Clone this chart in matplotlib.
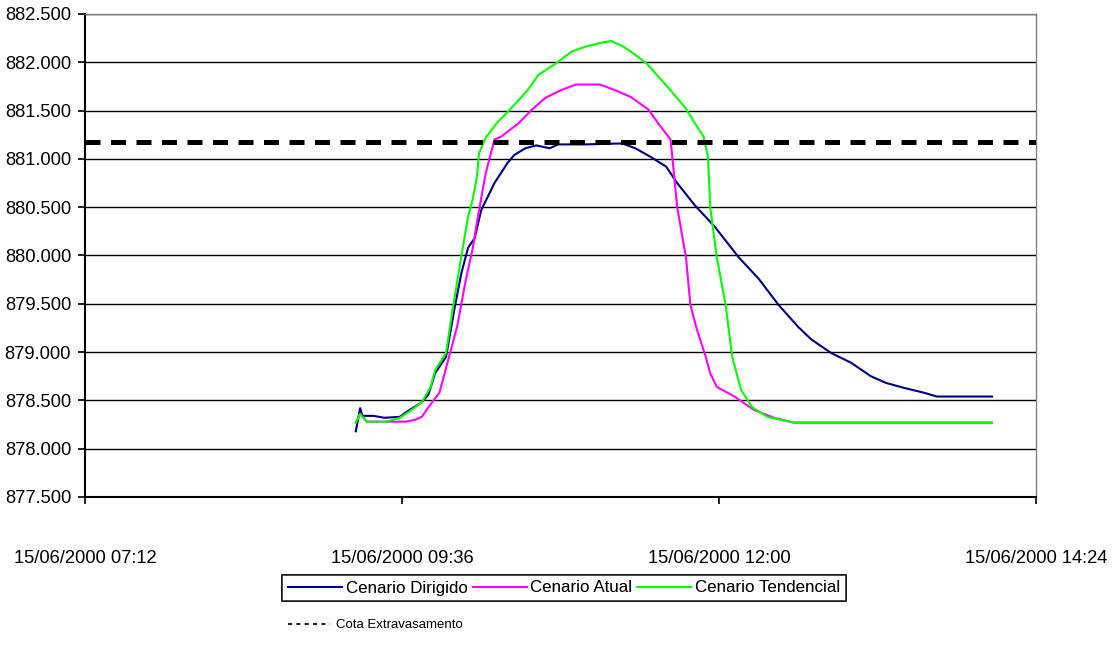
import matplotlib
matplotlib.use("Agg")
import matplotlib.pyplot as plt
import matplotlib.dates as mdates
from matplotlib.lines import Line2D
from datetime import datetime
import numpy as np

DAY = "2000-06-15 "

dirigido_t = ["09:15", "09:17", "09:18", "09:23", "09:28", "09:35", "09:38", "09:45", "09:48",
              "09:51", "09:56", "10:00", "10:03", "10:06", "10:09", "10:12", "10:18", "10:24",
              "10:27", "10:32", "10:37", "10:43", "10:47", "10:59", "11:16", "11:22", "11:29",
              "11:36", "11:41", "11:49", "11:58", "12:09", "12:18", "12:27", "12:36", "12:42",
              "12:51", "13:00", "13:09", "13:16", "13:24", "13:33", "13:39", "14:04"]
dirigido_v = [878.18, 878.42, 878.34, 878.34, 878.32, 878.33, 878.38, 878.48, 878.56,
              878.78, 878.95, 879.47, 879.82, 880.08, 880.18, 880.47, 880.75, 880.96,
              881.04, 881.11, 881.14, 881.11, 881.15, 881.15, 881.16, 881.11, 881.02,
              880.92, 880.75, 880.52, 880.30, 879.98, 879.76, 879.49, 879.26, 879.13,
              878.99, 878.89, 878.75, 878.68, 878.63, 878.58, 878.54, 878.54]

atual_t = ["09:15", "09:17", "09:20", "09:29", "09:38", "09:42", "09:45", "09:48", "09:53",
           "09:57", "10:01", "10:05", "10:08", "10:11", "10:14", "10:18", "10:21", "10:29",
           "10:35", "10:41", "10:48", "10:55", "11:06", "11:13", "11:20", "11:28", "11:32",
           "11:38", "11:41", "11:45", "11:47", "11:50", "11:54", "11:56", "11:59", "12:07",
           "12:16", "12:25", "12:34", "14:04"]
atual_v = [878.27, 878.36, 878.28, 878.28, 878.28, 878.30, 878.33, 878.43, 878.58,
           878.92, 879.26, 879.75, 880.06, 880.47, 880.85, 881.20, 881.23, 881.37,
           881.51, 881.63, 881.71, 881.77, 881.77, 881.71, 881.64, 881.51, 881.38,
           881.20, 880.50, 879.98, 879.49, 879.23, 878.95, 878.78, 878.64, 878.54,
           878.40, 878.32, 878.27, 878.27]

tend_t = ["09:15", "09:17", "09:20", "09:29", "09:35", "09:39", "09:45", "09:49", "09:51",
          "09:56", "09:59", "10:03", "10:06", "10:08", "10:10", "10:11", "10:14", "10:19",
          "10:25", "10:29", "10:33", "10:38", "10:46", "10:53", "10:59", "11:06", "11:11",
          "11:16", "11:20", "11:27", "11:31", "11:38", "11:45", "11:49", "11:53", "11:55",
          "11:56", "11:59", "12:03", "12:06", "12:10", "12:15", "12:22", "12:30", "12:34",
          "14:04"]
tend_v = [878.27, 878.36, 878.28, 878.28, 878.32, 878.38, 878.48, 878.64, 878.81,
          878.99, 879.44, 880.00, 880.40, 880.57, 880.81, 881.06, 881.22, 881.37,
          881.51, 881.61, 881.71, 881.87, 881.99, 882.11, 882.16, 882.20, 882.22,
          882.17, 882.11, 881.99, 881.89, 881.71, 881.52, 881.37, 881.23, 881.02,
          880.50, 879.98, 879.49, 878.95, 878.61, 878.43, 878.33, 878.29, 878.27,
          878.27]

cota = 881.17

x_ticks = ["07:12", "09:36", "12:00", "14:24"]
y_min, y_max, y_step = 877.5, 882.5, 0.5

def to_dt(lst):
    return [datetime.strptime(DAY + s, "%Y-%m-%d %H:%M") for s in lst]

plt.rcParams['font.family'] = ['Liberation Sans', 'DejaVu Sans']

fig = plt.figure(figsize=(11.15, 6.54), dpi=100)
ax = fig.add_axes([85/1115, 1 - 497/654, (1036-85)/1115, (497-14)/654])

lw = 1.5
l1, = ax.plot(to_dt(dirigido_t), dirigido_v, color="#000080", lw=lw, label="Cenario Dirigido", zorder=3)
l2, = ax.plot(to_dt(atual_t), atual_v, color="#FF00FF", lw=lw, label="Cenario Atual", zorder=3)
l3, = ax.plot(to_dt(tend_t), tend_v, color="#00FF00", lw=lw, label="Cenario Tendencial", zorder=3)
ax.axhline(cota, color="black", lw=3.6, linestyle=(0, (3.0, 2.1)), zorder=4)

xt = to_dt(x_ticks)
ax.set_xlim(xt[0], xt[-1])
ax.set_xticks(xt)
ax.xaxis.set_major_formatter(mdates.DateFormatter("%d/%m/%Y %H:%M"))

yt = np.arange(y_min, y_max + 1e-9, y_step)
ax.set_ylim(y_min, y_max)
ax.set_yticks(yt)
ax.set_yticklabels([f"{v:.3f}" for v in yt])

ax.yaxis.grid(True, color="black", lw=1.0)
ax.set_axisbelow(True)

for s in ["top", "right"]:
    ax.spines[s].set_color("#808080")
    ax.spines[s].set_linewidth(1.0)
for s in ["left", "bottom"]:
    ax.spines[s].set_color("black")
    ax.spines[s].set_linewidth(1.5)

ax.tick_params(axis="y", direction="out", length=5, width=1.2, pad=5, labelsize=13.2)
ax.tick_params(axis="x", direction="out", length=5, width=1.2, pad=33, labelsize=13.2)

leg1 = fig.legend(handles=[l1, l2, l3], loc="center", bbox_to_anchor=(564/1115, 1 - 588/654),
                  ncol=3, frameon=True, fancybox=False, edgecolor="black", fontsize=12.2,
                  handlelength=3.2, handletextpad=0.2, columnspacing=0.3, borderpad=0.35,
                  borderaxespad=0)
leg1.get_frame().set_linewidth(1.2)

proxy = Line2D([], [], color="black", lw=1.2, linestyle=(0, (2.5, 2.5)))
leg2 = fig.legend(handles=[proxy], labels=["Cota Extravasamento"], loc="center left",
                  bbox_to_anchor=(288/1115, 1 - 625/654), frameon=False, fontsize=9.5,
                  handlelength=3.2, handletextpad=0.4, borderaxespad=0, borderpad=0)
fig.add_artist(leg1)

fig.savefig("out.png", dpi=100)
